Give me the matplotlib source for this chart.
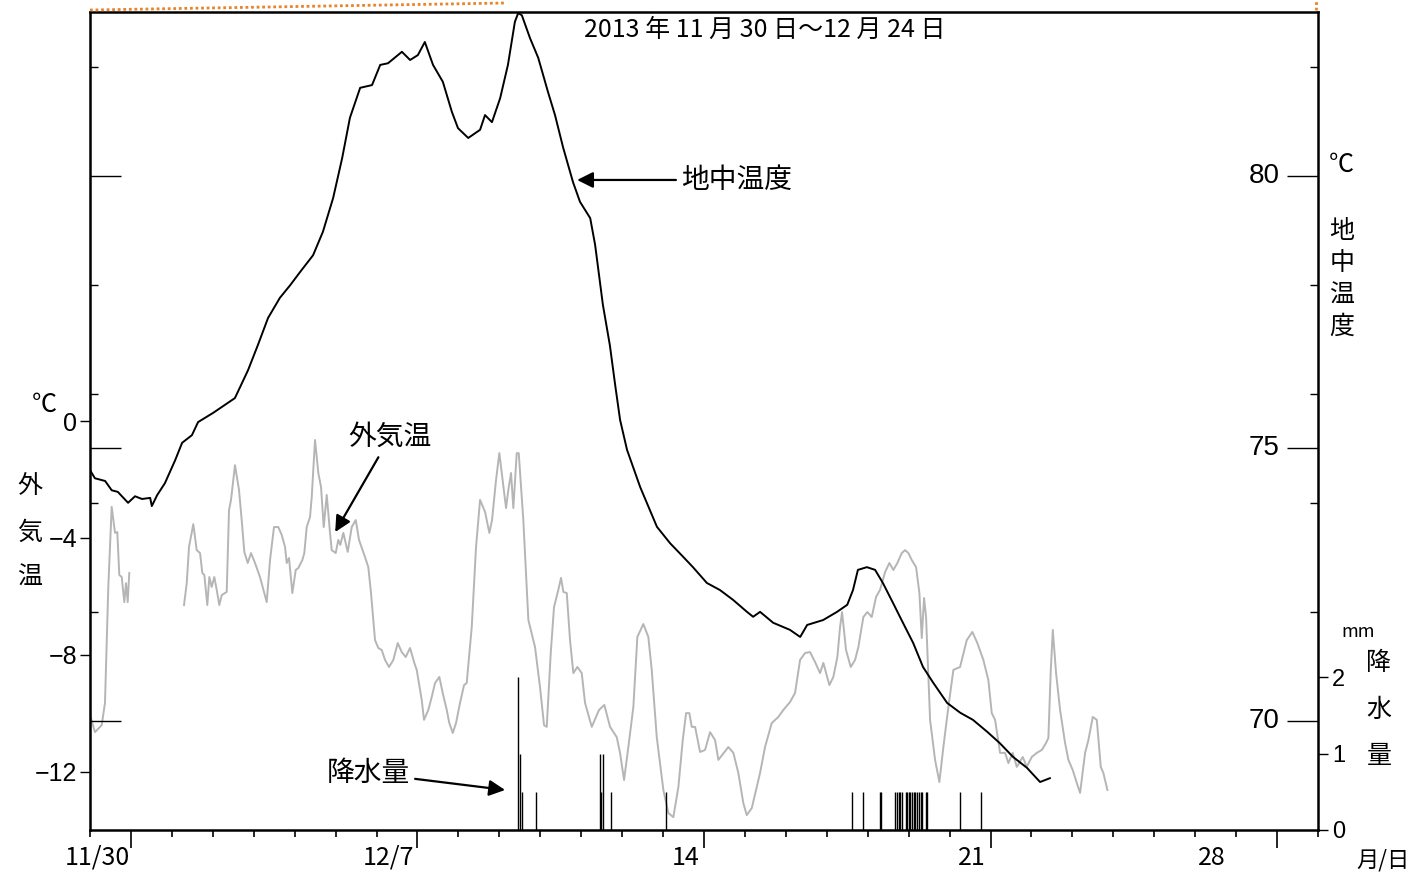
import numpy as np
import matplotlib.pyplot as plt
from matplotlib.lines import Line2D
from matplotlib.ticker import FixedLocator, MultipleLocator
from matplotlib.transforms import blended_transform_factory

plt.rcParams['font.family'] = ['Liberation Sans', 'Noto Sans CJK JP']
plt.rcParams['axes.unicode_minus'] = True
JP = ['Noto Sans CJK JP', 'DejaVu Sans']

# 経過日数 (11/30 0時 = 0)
soil_day = [0.00, 0.12, 0.37, 0.53, 0.68, 0.93, 1.10, 1.27, 1.47, 1.51,
            1.64, 1.83, 2.08, 2.25, 2.49, 2.64, 3.01, 3.54, 3.86, 4.10,
            4.35, 4.64, 4.89, 5.13, 5.45, 5.69, 5.94, 6.16, 6.35, 6.60,
            6.89, 7.09, 7.28, 7.62, 7.82, 8.01, 8.18, 8.38, 8.62, 8.84,
            8.99, 9.24, 9.53, 9.65, 9.82, 10.02, 10.21, 10.38, 10.46, 10.55,
            10.75, 10.95, 11.19, 11.36, 11.56, 11.80, 11.97, 12.22, 12.34, 12.53,
            12.70, 12.83, 12.95, 13.12, 13.44, 13.85, 14.17, 14.49, 14.73, 15.07,
            15.39, 15.71, 16.05, 16.20, 16.37, 16.69, 17.10, 17.35, 17.52, 17.91,
            18.25, 18.50, 18.64, 18.76, 18.98, 19.18, 19.37, 19.62, 19.86, 20.11,
            20.35, 20.60, 20.94, 21.26, 21.57, 21.92, 22.23, 22.55, 22.89, 23.21,
            23.45]
soil_temp = [74.60, 74.45, 74.40, 74.23, 74.20, 74.00, 74.12, 74.07, 74.09, 73.94,
             74.14, 74.36, 74.78, 75.10, 75.24, 75.48, 75.65, 75.92, 76.43, 76.89,
             77.39, 77.76, 77.99, 78.23, 78.54, 78.97, 79.59, 80.32, 81.06, 81.61,
             81.66, 82.03, 82.06, 82.27, 82.12, 82.21, 82.45, 82.03, 81.72, 81.17,
             80.87, 80.69, 80.84, 81.11, 80.98, 81.42, 82.03, 82.82, 82.98, 82.94,
             82.52, 82.16, 81.53, 81.11, 80.51, 79.88, 79.52, 79.22, 78.73, 77.63,
             76.89, 76.16, 75.52, 74.97, 74.29, 73.56, 73.26, 73.01, 72.82, 72.53,
             72.40, 72.22, 72.00, 71.91, 72.00, 71.80, 71.67, 71.54, 71.76, 71.85,
             72.00, 72.13, 72.40, 72.77, 72.82, 72.77, 72.53, 72.16, 71.80, 71.43,
             70.99, 70.70, 70.33, 70.15, 70.02, 69.80, 69.59, 69.34, 69.14, 68.88,
             68.95]

nan = float('nan')
air_day = [0.000, 0.122, 0.286, 0.366, 0.447, 0.530, 0.611, 0.667, 0.716, 0.775,
           0.838, 0.880, 0.921, 0.960, 1.600,
           2.297, 2.363, 2.419, 2.524, 2.607, 2.688, 2.744, 2.793, 2.866, 2.915,
           2.973, 3.037, 3.096, 3.159, 3.218, 3.340, 3.396, 3.445, 3.542, 3.640,
           3.706, 3.770, 3.853, 3.934, 4.031, 4.153, 4.317, 4.398, 4.495, 4.600,
           4.684, 4.764, 4.806, 4.862, 4.943, 5.026, 5.089, 5.187, 5.236, 5.294,
           5.375, 5.417, 5.497, 5.578, 5.644, 5.710, 5.783, 5.864, 5.905, 6.003,
           6.066, 6.115, 6.189, 6.296, 6.394, 6.492, 6.572, 6.719, 6.799, 6.865,
           6.963, 7.044, 7.127, 7.208, 7.305, 7.410, 7.518, 7.616, 7.713, 7.818,
           7.923, 7.982, 8.104, 8.160, 8.265, 8.348, 8.429, 8.534, 8.617, 8.715,
           8.778, 8.862, 8.942, 9.040, 9.138, 9.203, 9.326, 9.431, 9.529, 9.651,
           9.756, 9.822, 9.919, 10.000, 10.059, 10.164, 10.220, 10.286, 10.342, 10.425,
           10.474, 10.586, 10.709, 10.872, 10.994, 11.092, 11.158, 11.256, 11.336, 11.441,
           11.507, 11.564, 11.647, 11.727, 11.808, 11.906, 12.013, 12.094, 12.258, 12.436,
           12.565, 12.705, 12.868, 12.949, 13.047, 13.152, 13.274, 13.372, 13.518, 13.640,
           13.723, 13.846, 14.007, 14.129, 14.251, 14.374, 14.481, 14.562, 14.642, 14.701,
           14.782, 14.904, 15.026, 15.148, 15.270, 15.351, 15.595, 15.717, 15.839, 15.961,
           16.044, 16.167, 16.369, 16.491, 16.655, 16.816, 16.939, 17.102, 17.224, 17.347,
           17.469, 17.591, 17.713, 17.835, 17.916, 18.063, 18.160, 18.258, 18.324, 18.373,
           18.470, 18.585, 18.690, 18.771, 18.893, 18.991, 19.098, 19.204, 19.301, 19.424,
           19.529, 19.626, 19.724, 19.832, 19.912, 19.993, 20.076, 20.181, 20.262, 20.320,
           20.376, 20.425, 20.523, 20.645, 20.750, 20.848, 20.970, 21.092, 21.256, 21.419,
           21.556, 21.678, 21.825, 21.947, 22.030, 22.111, 22.233, 22.355, 22.436, 22.543,
           22.641, 22.788, 22.885, 23.007, 23.130, 23.252, 23.357, 23.413, 23.472, 23.521,
           23.601, 23.699, 23.821, 23.902, 24.009, 24.107, 24.188, 24.310, 24.391, 24.498,
           24.596, 24.693, 24.757, 24.855]
air_temp = [-10.06, -10.65, -10.41, -9.65, -5.68, -2.94, -3.83, -3.80, -5.27, -5.34,
            -6.20, -5.55, -6.20, -5.20, nan,
            -6.30, -5.55, -4.31, -3.53, -4.42, -4.52, -5.20, -5.27, -6.30, -5.34,
            -5.68, -5.34, -5.78, -6.30, -5.96, -5.85, -3.05, -2.70, -1.51, -2.36,
            -3.39, -4.48, -4.86, -4.52, -4.86, -5.34, -6.20, -4.76, -3.63, -3.63,
            -3.90, -4.31, -4.86, -4.69, -5.89, -5.10, -5.03, -4.76, -4.52, -3.63,
            -3.29, -2.60, -0.65, -1.78, -2.26, -3.63, -2.53, -3.83, -4.42, -4.52,
            -4.07, -4.24, -3.83, -4.48, -3.63, -3.39, -4.07, -4.66, -5.00, -5.89,
            -7.50, -7.77, -7.84, -8.18, -8.42, -8.18, -7.60, -7.91, -8.08, -7.77,
            -8.28, -8.52, -9.55, -10.23, -9.89, -9.45, -8.97, -8.76, -9.31, -9.89,
            -10.34, -10.68, -10.34, -9.65, -9.04, -8.97, -7.05, -4.31, -2.70, -3.11,
            -3.83, -3.39, -2.02, -1.10, -1.78, -2.98, -2.36, -1.78, -2.98, -1.10,
            -1.10, -3.39, -6.81, -7.74, -9.11, -10.41, -10.47, -7.94, -6.37, -5.78,
            -5.37, -5.85, -5.89, -7.50, -8.63, -8.42, -8.63, -9.65, -10.47, -9.89,
            -9.72, -10.47, -10.82, -11.36, -12.29, -11.16, -9.79, -7.39, -6.95, -7.39,
            -8.52, -10.82, -12.63, -13.42, -13.56, -12.53, -10.92, -10.00, -10.00, -10.47,
            -10.47, -11.33, -11.26, -10.65, -10.92, -11.60, -11.16, -11.36, -12.05, -13.08,
            -13.49, -13.25, -12.05, -11.16, -10.34, -10.13, -9.89, -9.62, -9.31, -8.18,
            -7.94, -7.91, -8.25, -8.63, -8.28, -9.04, -8.76, -8.08, -7.05, -6.54,
            -7.84, -8.42, -8.18, -7.74, -6.71, -6.54, -6.71, -6.02, -5.78, -5.17,
            -4.86, -5.10, -4.86, -4.52, -4.42, -4.52, -4.76, -5.00, -5.89, -7.43,
            -6.06, -6.71, -10.23, -11.60, -12.36, -11.16, -9.79, -8.52, -8.42, -7.50,
            -7.22, -7.60, -8.18, -8.87, -10.00, -10.23, -11.36, -11.36, -11.71, -11.36,
            -11.84, -11.50, -11.84, -11.50, -11.36, -11.26, -11.02, -10.85, -8.52, -7.15,
            -8.63, -9.89, -11.02, -11.60, -11.95, -12.39, -12.73, -11.36, -10.92, -10.13,
            -10.23, -11.84, -12.05, -12.63]

rain_day = [10.464, 10.496, 10.555, 10.897, 12.468, 12.492, 12.541, 12.724, 14.078,
            18.625, 18.879, 19.301, 19.321, 19.668, 19.717, 19.753, 19.790, 19.839,
            19.924, 19.961, 19.998, 20.034, 20.071, 20.120, 20.156, 20.205, 20.242,
            20.291, 20.327, 20.432, 20.454, 21.256, 21.762]
rain_mm = [2.0, 1.0, 0.5, 0.5, 1.0, 0.5, 1.0, 0.5, 0.5,
           0.5, 0.5, 0.5, 0.5, 0.5, 0.5, 0.5, 0.5, 0.5,
           0.5, 0.5, 0.5, 0.5, 0.5, 0.5, 0.5, 0.5, 0.5,
           0.5, 0.5, 0.5, 0.5, 0.5, 0.5]

date_labels = ['11/30', '12/7', '14', '21', '28']
date_label_pos = [0.17, 7.28, 14.55, 21.55, 27.4]
week_ticks = [1, 8, 15, 22, 29]
air_ticks = [-12, -8, -4, 0]
soil_ticks = [70, 75, 80]
soil_minor = [72, 74, 76, 78, 82]
rain_ticks = [0, 1, 2]

W, H = 1428, 875
fig = plt.figure(figsize=(W / 100, H / 100), dpi=100)


def px(x, y):
    return x / W, 1 - y / H


ax = fig.add_axes([90 / W, 1 - 830 / H, 1228 / W, 818 / H])
ax2 = ax.twinx()
ax3 = ax.twinx()

# 外気温 (左軸)
ax.plot(air_day, air_temp, color='#b5b5b5', lw=1.4)
ax.set_xlim(0, 30)
ax.set_ylim(-14, 14)
ax.yaxis.set_major_locator(FixedLocator(air_ticks))
ax.set_yticklabels(['\u2212' + str(-v) if v < 0 else str(v) for v in air_ticks])
ax.tick_params(axis='y', which='both', direction='out', length=7, width=1,
               labelsize=18, pad=2, right=False)
ax.xaxis.set_major_locator(FixedLocator(week_ticks))
ax.xaxis.set_minor_locator(MultipleLocator(1))
ax.tick_params(axis='x', which='major', direction='out', length=13, width=1.2,
               labelbottom=False)
ax.tick_params(axis='x', which='minor', direction='out', length=5, width=1.2)
for s in ax.spines.values():
    s.set_linewidth(1.8)

# 地中温度 (右軸, 目盛は内向き)
ax2.plot(soil_day, soil_temp, color='black', lw=1.4)
ax2.set_ylim(68, 83)
ax2.yaxis.set_major_locator(FixedLocator(soil_ticks))
ax2.yaxis.set_minor_locator(FixedLocator(soil_minor))
ax2.tick_params(axis='y', which='major', direction='in', length=22, width=1,
                left=True, right=True, labelleft=False, labelright=False)
ax2.tick_params(axis='y', which='minor', direction='in', length=6, width=1,
                left=True, right=True)
tr = blended_transform_factory(ax2.transAxes, ax2.transData)
for v in soil_ticks:
    ax2.text(1 - 38 / 1228, v, str(v), transform=tr, ha='right', va='center',
             fontsize=20)

# 降水量 (右軸下部)
ax3.vlines(rain_day, 0, rain_mm, color='black', lw=1.0)
ax3.set_ylim(0, 10.7)
ax3.yaxis.set_major_locator(FixedLocator(rain_ticks))
ax3.tick_params(axis='y', direction='out', length=7, width=1, labelsize=17, pad=3)

for a in (ax2, ax3):
    for s in a.spines.values():
        s.set_visible(False)

# 日付ラベル
for pos, lab in zip(date_label_pos, date_labels):
    ax.text(pos, -0.034, lab, transform=blended_transform_factory(ax.transData, ax.transAxes),
            ha='center', va='center', fontsize=18, family=JP)

# 注記
arrow = dict(arrowstyle='-|>', color='black', lw=1.6, mutation_scale=24, shrinkA=2, shrinkB=0)
ax2.annotate('地中温度', xy=(11.9, 79.92), xytext=(14.45, 79.92), ha='left', va='center',
             fontsize=20, family=JP, arrowprops=arrow)
ax.annotate('外気温', xy=(5.99, -3.80), xytext=(7.33, -0.55), ha='center', va='center',
            fontsize=20, family=JP, arrowprops=arrow)
ax.annotate('降水量', xy=(10.14, -12.63), xytext=(6.79, -12.05), ha='center', va='center',
            fontsize=20, family=JP, arrowprops=arrow)

fig.text(*px(765, 30), '2013 年 11 月 30 日～12 月 24 日', ha='center', va='center',
         fontsize=18, family=JP)

# 軸名
fig.text(*px(44, 405), '℃', ha='center', va='center', fontsize=18, family=JP)
for ch, y in zip('外気温', [486, 533, 578]):
    fig.text(*px(30, y), ch, ha='center', va='center', fontsize=18, family=JP)
fig.text(*px(1341, 165), '℃', ha='center', va='center', fontsize=18, family=JP)
for ch, y in zip('地中温度', [231, 263, 296, 327]):
    fig.text(*px(1342, y), ch, ha='center', va='center', fontsize=18, family=JP)
fig.text(*px(1358, 632), 'mm', ha='center', va='center', fontsize=13, family=JP)
for ch, y in zip('降水量', [663, 710, 756]):
    fig.text(*px(1379, y), ch, ha='center', va='center', fontsize=18, family=JP)
fig.text(*px(1383, 860), '月/日', ha='center', va='center', fontsize=16, family=JP)

# 上端の点線枠
fig.add_artist(Line2D([90 / W, 505 / W], [1 - 10 / H, 1 - 3 / H], color='#e8842a',
                      lw=2, ls=(0, (1, 1))))
fig.add_artist(Line2D([1316 / W, 1316 / W], [1 - 10 / H, 1.0], color='#e8842a',
                      lw=2, ls=(0, (1, 1))))

fig.savefig('out.png', dpi=100)
